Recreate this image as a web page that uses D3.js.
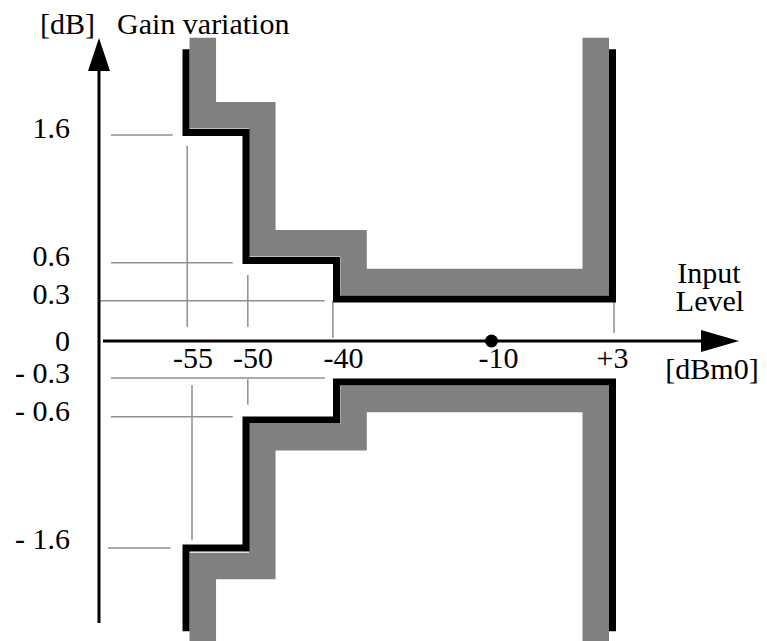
<!DOCTYPE html>
<html>
<head>
<meta charset="utf-8">
<script src="https://cdn.jsdelivr.net/npm/d3@7/dist/d3.min.js"></script>
<style>
  html, body { margin: 0; padding: 0; background: #fff; }
  svg { display: block; }
  text { font-family: "Liberation Serif", "DejaVu Serif", serif; font-size: 30px; fill: #000; }
</style>
</head>
<body>
<script>
// ---------- data ----------
const xTicks = [-55, -50, -40, -10, 3];
const xTickLabels = ["-55", "-50", "-40", "-10", "+3"];
const yTicks = [1.6, 0.6, 0.3, 0, -0.3, -0.6, -1.6];
const yTickLabels = ["1.6", "0.6", "0.3", "0", "- 0.3", "- 0.6", "- 1.6"];

// black limit lines (upper and lower mask)
const limitX      = [-55, -55, -50, -50, -40, -40, 3, 3];
const upperLimitY = [2.25, 1.6, 1.6, 0.6, 0.6, 0.3, 0.3, 2.25];
const lowerLimitY = [-2.25, -1.6, -1.6, -0.6, -0.6, -0.3, -0.3, -2.25];

// grey tolerance bands
const bandX      = [-53.6, -53.6, -48.2, -48.2, -36.7, -36.7, 1.2, 1.2];
const upperBandY = [2.34, 1.735, 1.735, 0.735, 0.735, 0.433, 0.433, 2.34];
const lowerBandY = [-2.33, -1.74, -1.74, -0.735, -0.735, -0.434, -0.434, -2.33];

// thin guide lines: horizontal (level, from x, to x) and vertical (x, from y, to y)
const hGuideLevel = [1.58, 0.583, 0.288, -0.271, -0.574, -1.6];
const hGuideFrom  = [-61.25, -61.25, -62.3, -61.25, -61.25, -61.5];
const hGuideTo    = [-56.1, -51.1, -41.3, -41.3, -51.1, -56.3];
const vGuideX     = [-54.9, -49.8, -40.4, 3.16, -54.5, -49.8];
const vGuideFrom  = [1.495, 0.487, 0.29, 0.29, -0.324, -0.28];
const vGuideTo    = [0.1, 0.1, 0.021, 0.057, -1.54, -0.48];

const refPointX = [-10];
const refPointY = [0];

// ---------- layout ----------
const W = 767, H = 641;
const x = d3.scaleLinear()
  .domain([-55, -50, -40, -10, 3])
  .range([186, 246, 336.5, 491.5, 612.5]);
const y = d3.scaleLinear()
  .domain([1.6, 0.6, 0.3, 0, -0.3, -0.6, -1.6])
  .range([132.5, 260.5, 299, 341, 382, 420, 548]);

const svg = d3.select("body").append("svg").attr("width", W).attr("height", H);

const line = d3.line().x(d => x(d[0])).y(d => y(d[1]));
const pts = (xs, ys) => xs.map((v, i) => [v, ys[i]]);

// guides
const guides = svg.append("g").attr("stroke", "#8f8f8f").attr("stroke-width", 1.5);
hGuideLevel.forEach((lv, i) => {
  guides.append("line")
    .attr("x1", x(hGuideFrom[i])).attr("x2", x(hGuideTo[i]))
    .attr("y1", y(lv)).attr("y2", y(lv));
});
vGuideX.forEach((vx, i) => {
  guides.append("line")
    .attr("x1", x(vx)).attr("x2", x(vx))
    .attr("y1", y(vGuideFrom[i])).attr("y2", y(vGuideTo[i]));
});

// grey bands
[upperBandY, lowerBandY].forEach(ys => {
  svg.append("path")
    .attr("d", line(pts(bandX, ys)))
    .attr("fill", "none")
    .attr("stroke", "#808080")
    .attr("stroke-width", 26.5)
    .attr("stroke-linejoin", "miter")
    .attr("stroke-linecap", "butt");
});

// black limits
[upperLimitY, lowerLimitY].forEach(ys => {
  svg.append("path")
    .attr("d", line(pts(limitX, ys)))
    .attr("fill", "none")
    .attr("stroke", "#000")
    .attr("stroke-width", 7)
    .attr("stroke-linejoin", "miter")
    .attr("stroke-linecap", "butt");
});

// axes
const axX0 = 99;         // vertical axis position (px)
const axY0 = y(0);       // horizontal axis at 0 dB
svg.append("line").attr("x1", axX0).attr("x2", axX0).attr("y1", 68).attr("y2", 623)
  .attr("stroke", "#000").attr("stroke-width", 3);
svg.append("path").attr("d", `M${axX0},38 L${axX0 - 11},71 L${axX0 + 11},71 Z`).attr("fill", "#000");
svg.append("line").attr("x1", 103).attr("x2", 704).attr("y1", axY0).attr("y2", axY0)
  .attr("stroke", "#000").attr("stroke-width", 3);
svg.append("path").attr("d", `M739,${axY0} L701,${axY0 - 11} L701,${axY0 + 11} Z`).attr("fill", "#000");

// reference point
svg.selectAll("circle.ref").data(refPointX).enter().append("circle")
  .attr("cx", d => x(d)).attr("cy", (d, i) => y(refPointY[i])).attr("r", 6.5).attr("fill", "#000");

// tick labels
svg.selectAll("text.xt").data(xTicks).enter().append("text")
  .attr("x", d => x(d) + (d < 0 ? 7 : 0))
  .attr("y", 368)
  .attr("text-anchor", "middle")
  .text((d, i) => xTickLabels[i]);

svg.selectAll("text.yt").data(yTicks).enter().append("text")
  .attr("x", 70)
  .attr("y", d => y(d) + (d > 0 ? -5 : d < 0 ? -9 : 0) + 10)
  .attr("text-anchor", "end")
  .text((d, i) => yTickLabels[i]);

// titles
svg.append("text").attr("x", 40).attr("y", 34).text("[dB]");
svg.append("text").attr("x", 117).attr("y", 34).text("Gain variation");
svg.append("text").attr("x", 709).attr("y", 283).attr("text-anchor", "middle").text("Input");
svg.append("text").attr("x", 710).attr("y", 311).attr("text-anchor", "middle").text("Level");
svg.append("text").attr("x", 712).attr("y", 379).attr("text-anchor", "middle").text("[dBm0]");
</script>
</body>
</html>
